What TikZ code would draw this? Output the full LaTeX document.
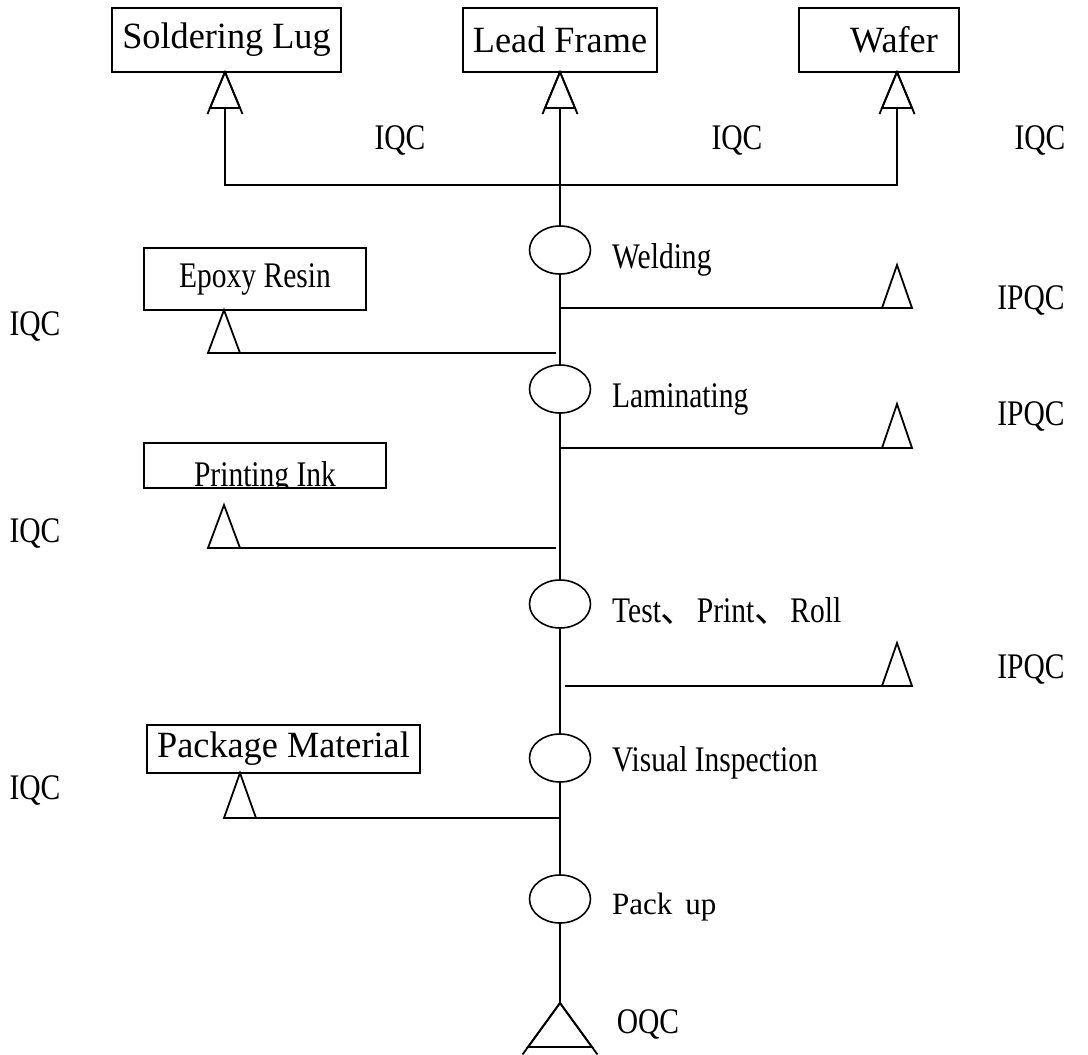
\documentclass[tikz,border=0pt]{standalone}
\usepackage{fontspec}
\setmainfont[FakeStretch=0.82]{Liberation Serif}
\newfontfamily\widefont[FakeStretch=0.98]{Liberation Serif}
\newfontfamily\plainserif{Liberation Serif}
\newfontfamily\cjkfont{Noto Sans CJK SC}
\newcommand\bigtxt{\widefont\fontsize{37}{42}\selectfont}
\newcommand\medtxt{\fontsize{36}{40}\selectfont}
\usetikzlibrary{shapes.geometric,calc}
\newcommand\qctri[5]{%
  \coordinate (#1-apex) at (#2,#3);
  \coordinate (#1-base) at (#2,#3+#5);
  \coordinate (#1-left) at (#2-#4,#3+#5);
  \coordinate (#1-right) at (#2+#4,#3+#5);
  \draw[conn] (#1-left) -- (#1-apex) -- (#1-right) -- cycle;}
\newcommand\qctrix[5]{%
  \qctri{#1}{#2}{#3}{#4}{#5}
  \draw[conn] (#1-apex) -- ($(#1-apex)!1.17!(#1-left)$);
  \draw[conn] (#1-apex) -- ($(#1-apex)!1.17!(#1-right)$);}
\begin{document}
\begin{tikzpicture}[x=1pt,y=-1pt,
  conn/.style={line width=1.8pt, line join=miter},
  matbox/.style={draw, line width=1.6pt, inner sep=0pt, font=\bigtxt},
  proc/.style={ellipse, draw, line width=1.6pt, minimum width=61pt, minimum height=48pt, inner sep=0pt},
  plabel/.style={anchor=base west, font=\medtxt, inner sep=0pt},
  qclabel/.style={anchor=center, font=\medtxt, inner sep=0pt}]
\useasboundingbox (0,0) rectangle (1088,1055);

% material boxes
\node[matbox, minimum width=229pt, minimum height=64pt] (solder) at (226.5,40) {Soldering Lug};
\node[matbox, minimum width=194pt, minimum height=64pt] (lead) at (560,40) {Lead Frame};
\node[matbox, minimum width=160pt, minimum height=64pt] (wafer) at (879,40) {\hspace*{30pt}Wafer};
\node[matbox, font=\medtxt, minimum width=222pt, minimum height=62pt] (epoxy) at (255,279) {Epoxy Resin};
\node[matbox, minimum width=242pt, minimum height=45pt] (ink) at (265,465.5) {};
\begin{scope}
  \clip (ink.south west) rectangle (ink.north east);
  \node[anchor=base, font=\medtxt, inner sep=0pt] (inktext) at (265,486) {Printing Ink};
\end{scope}
\node[matbox, minimum width=273pt, minimum height=48pt] (pkg) at (283.5,749) {Package Material};

% process ellipses
\node[proc] (weld) at (560,250) {};
\node[proc] (lam) at (560,389) {};
\node[proc] (test) at (560,604) {};
\node[proc] (vis) at (560,758) {};
\node[proc] (pack) at (560,899) {};

\node[plabel] (weldl) at (612,268) {Welding};
\node[plabel] (laml) at (612,407) {Laminating};
\node[plabel] (testl) at (612,622) {Test{\cjkfont 、}Print{\cjkfont 、}Roll};
\node[plabel] (visl) at (612,771) {Visual Inspection};
\node[plabel, font=\plainserif\fontsize{31}{36}\selectfont] (packl) at (612,914) {Pack\,\ up};

% inspection triangles
\qctrix{t1}{225}{72}{15}{36}
\qctrix{t2}{560}{72}{15}{36}
\qctrix{t3}{897}{72}{15}{36}
\qctri{t4}{224}{310}{16}{43}
\qctri{t5}{897}{265}{15}{43}
\qctri{t6}{897}{404}{15}{44}
\qctri{t7}{224}{505}{16}{43}
\qctri{t8}{897}{643}{15}{43}
\qctri{t9}{240}{773}{16}{45}
\qctrix{t10}{560}{1003}{32}{44}

% QC labels
\node[qclabel] (iqc1) at (400,140) {IQC};
\node[qclabel] (iqc2) at (737,140) {IQC};
\node[qclabel] (iqc3) at (1040,140) {IQC};
\node[qclabel] (iqc4) at (35,326) {IQC};
\node[qclabel] (iqc5) at (35,533) {IQC};
\node[qclabel] (iqc6) at (35,790) {IQC};
\node[qclabel] (ipqc1) at (1031,300) {IPQC};
\node[qclabel] (ipqc2) at (1031,416) {IPQC};
\node[qclabel] (ipqc3) at (1031,669) {IPQC};
\node[qclabel] (oqc) at (648,1024) {OQC};

% junction coordinates
\coordinate (topj) at (560,185);
\coordinate (j4) at (556,353);
\coordinate (j5) at (560,308);
\coordinate (j6) at (560,448);
\coordinate (j7) at (556,548);
\coordinate (j8) at (565,686);
\coordinate (j9) at (560,818);

% connectors
\draw[conn] (t1-base) |- (topj) -| (t3-base);
\draw[conn] (t2-base) -- (weld.north);
\draw[conn] (weld.south) -- (lam.north);
\draw[conn] (lam.south) -- (test.north);
\draw[conn] (test.south) -- (vis.north);
\draw[conn] (vis.south) -- (pack.north);
\draw[conn] (pack.south) -- (t10-apex);
\draw[conn] (j4) -- (t4-left);
\draw[conn] (j5) -- (t5-left);
\draw[conn] (j6) -- (t6-left);
\draw[conn] (j7) -- (t7-left);
\draw[conn] (j8) -- (t8-left);
\draw[conn] (j9) -- (t9-left);
\end{tikzpicture}
\end{document}
